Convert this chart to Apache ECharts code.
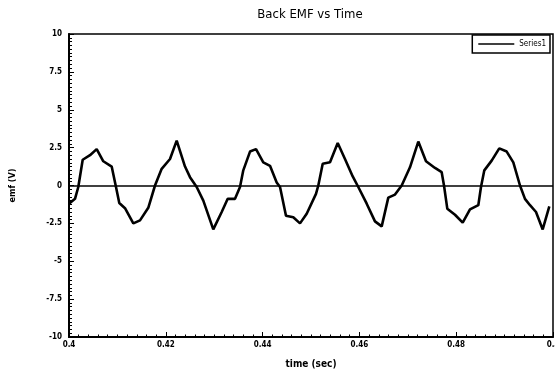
<!DOCTYPE html>
<html>
<head>
<meta charset="utf-8">
<script src="https://cdn.jsdelivr.net/npm/echarts@6/dist/echarts.min.js"></script>
<style>
html,body{margin:0;padding:0;background:#fff;}
#chart{width:555px;height:374px;}
</style>
</head>
<body>
<div id="chart"></div>
<script>
var title = "Back EMF vs Time";
var seriesName = "Series1";
var xTicks = [0.4, 0.42, 0.44, 0.46, 0.48, 0.5];
var yTicks = [-10, -7.5, -5, -2.5, 0, 2.5, 5, 7.5, 10];
var timeSec = [0.4, 0.40124, 0.40192, 0.40283, 0.40434, 0.40572, 0.40709, 0.40882, 0.40971, 0.41039,
  0.41157, 0.41329, 0.41467, 0.41638, 0.41777, 0.41915, 0.42087, 0.42225, 0.42397, 0.425,
  0.42638, 0.42775, 0.42981, 0.43155, 0.43279, 0.4343, 0.43533, 0.43601, 0.4374, 0.43864,
  0.44014, 0.44153, 0.44291, 0.4436, 0.44483, 0.44634, 0.44773, 0.44911, 0.45103, 0.45151,
  0.45242, 0.45393, 0.45552, 0.45702, 0.45862, 0.45977, 0.46151, 0.46322, 0.46461, 0.46597,
  0.46736, 0.46874, 0.47045, 0.47217, 0.47376, 0.47562, 0.477, 0.47748, 0.47816, 0.47975,
  0.48134, 0.48285, 0.48457, 0.48512, 0.48581, 0.48733, 0.4889, 0.49043, 0.4918, 0.49318,
  0.49421, 0.49525, 0.49649, 0.49787, 0.49924];
var emfV = [-1.2, -0.88, -0.1, 1.7, 2.0, 2.4, 1.6, 1.25, -0.1, -1.16,
  -1.5, -2.5, -2.3, -1.47, 0.0, 1.1, 1.75, 2.96, 1.25, 0.55,
  -0.1, -1.0, -2.9, -1.75, -0.88, -0.88, -0.1, 1.0, 2.24, 2.4,
  1.53, 1.3, 0.2, -0.1, -2.0, -2.1, -2.5, -1.86, -0.55, 0.0,
  1.43, 1.53, 2.8, 1.75, 0.6, -0.1, -1.2, -2.37, -2.7, -0.8,
  -0.6, 0.0, 1.2, 2.9, 1.6, 1.16, 0.88, 0.0, -1.53, -1.93,
  -2.45, -1.58, -1.3, -0.1, 1.0, 1.64, 2.45, 2.24, 1.53, 0.0,
  -0.88, -1.3, -1.75, -2.9, -1.38];

var data = timeSec.map(function (t, i) { return [t, emfV[i]]; });
var font = '"DejaVu Sans Condensed", "DejaVu Sans", sans-serif';

var chart = echarts.init(document.getElementById('chart'), null, {renderer: 'canvas'});
chart.setOption({
  animation: false,
  backgroundColor: '#fff',
  title: {
    text: title, left: 305, top: 3, textAlign: 'center',
    textStyle: {fontFamily: font, fontSize: 13, fontWeight: 'normal', color: '#000'}
  },
  legend: {
    data: [{name: seriesName, icon: 'rect'}], right: 5, top: 35,
    orient: 'horizontal',
    backgroundColor: '#fff', borderColor: '#000', borderWidth: 1.5, borderRadius: 0,
    padding: [5, 4, 5, 6], itemWidth: 36, itemHeight: 1.5, itemGap: 4,
    textStyle: {fontFamily: font, fontSize: 8, color: '#000'}
  },
  grid: {left: 69, right: 2, top: 34, bottom: 37, show: true, borderColor: '#000', borderWidth: 1.5,
    containLabel: false, outerBoundsMode: 'none'},
  xAxis: {
    type: 'value', min: 0.4, max: 0.5, interval: 0.02,
    name: 'time (sec)', nameLocation: 'middle', nameGap: 22,
    nameTextStyle: {fontFamily: font, fontSize: 10, color: '#000', fontWeight: 'bold'},
    axisLine: {show: true, onZero: false, lineStyle: {color: '#000', width: 2}},
    axisTick: {show: true, inside: true, length: 5, lineStyle: {color: '#000', width: 1}},
    minorTick: {show: true, splitNumber: 10, length: 2.5, lineStyle: {color: '#000', width: 1}},
    splitLine: {show: false},
    axisLabel: {
      fontFamily: font, fontSize: 8, color: '#000', margin: 4, fontWeight: 'bold',
      formatter: function (v) { return String(Math.round(v * 100) / 100); }
    }
  },
  yAxis: {
    type: 'value', min: -10, max: 10, interval: 2.5,
    name: 'emf (V)', nameLocation: 'middle', nameGap: 52, nameRotate: 90,
    nameTextStyle: {fontFamily: font, fontSize: 9, color: '#000', fontWeight: 'bold'},
    axisLine: {show: true, onZero: false, lineStyle: {color: '#000', width: 2}},
    axisTick: {show: true, inside: true, length: 5, lineStyle: {color: '#000', width: 1}},
    minorTick: {show: true, splitNumber: 10, length: 3, lineStyle: {color: '#000', width: 1}},
    splitLine: {show: false},
    axisLabel: {
      fontFamily: font, fontSize: 8, color: '#000', margin: 7, fontWeight: 'bold',
      formatter: function (v) { return String(v); }
    }
  },
  series: [{
    name: seriesName, type: 'line', data: data, showSymbol: false, symbol: 'none',
    lineStyle: {color: '#000', width: 2.6}, itemStyle: {color: '#000'},
    markLine: {
      silent: true, symbol: ['none', 'none'], label: {show: false},
      lineStyle: {color: '#000', width: 1.5, type: 'solid'},
      data: [{yAxis: 0}]
    }
  }]
});
</script>
</body>
</html>
